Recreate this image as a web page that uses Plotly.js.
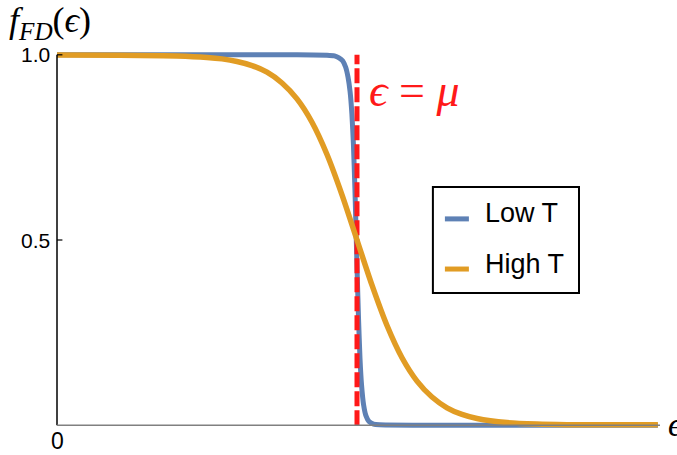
<!DOCTYPE html>
<html>
<head>
<meta charset="utf-8">
<script src="https://cdn.plot.ly/plotly-3.0.1.min.js"></script>
<style>html,body{margin:0;padding:0;background:#fff;}#chart{width:677px;height:455px;}</style>
</head>
<body>
<div id="chart"></div>
<script>
// Energy values (in units of the chemical potential) and occupation
const lowT_x = [0, 0.5, 0.8, 0.9, 0.925, 0.94, 0.952, 0.962, 0.97, 0.977, 0.983, 0.988, 0.993, 0.997, 1.001, 1.005, 1.01, 1.015, 1.022, 1.03, 1.04, 1.055, 1.075, 1.2, 2.003];
const lowT_y = [1, 1, 1, 0.999, 0.997, 0.992, 0.984, 0.967, 0.94, 0.9, 0.84, 0.76, 0.64, 0.52, 0.4, 0.29, 0.18, 0.11, 0.055, 0.025, 0.01, 0.003, 0.001, 0, 0];
const highT_x = [0, 0.2, 0.4, 0.5, 0.55, 0.6, 0.65, 0.7, 0.75, 0.8, 0.85, 0.9, 0.95, 1.0, 1.05, 1.1, 1.15, 1.2, 1.25, 1.3, 1.35, 1.4, 1.5, 1.6, 1.7, 1.8, 2.003];
const highT_y = [0.9995, 0.999, 0.997, 0.993, 0.989, 0.982, 0.971, 0.953, 0.924, 0.881, 0.818, 0.731, 0.622, 0.5, 0.378, 0.269, 0.182, 0.119, 0.076, 0.047, 0.029, 0.018, 0.007, 0.003, 0.0015, 0.001, 0.001];
const mu = 1.0;
const seriesNames = ["Low T", "High T"];
const yTickVals = [0.5, 1.0];
const yTickText = ["0.5", "1.0"];
const xTickVals = [0];
const xTickText = ["0"];
const xMax = 2.01;

const blue = "#5E81B5", orange = "#E19C24", red = "rgb(255,25,25)";
const serif = "Liberation Serif, Times New Roman, DejaVu Serif, serif";
const sans = "Liberation Sans, Arial, sans-serif";

const traces = [
  {x: lowT_x, y: lowT_y, mode: "lines", line: {color: blue, width: 5, shape: "spline", smoothing: 0.5}, name: seriesNames[0], showlegend: false, hoverinfo: "skip"},
  {x: [mu, mu], y: [0, 1], mode: "lines", line: {color: red, width: 5, dash: "15px,4px"}, showlegend: false, hoverinfo: "skip"},
  {x: highT_x, y: highT_y, mode: "lines", line: {color: orange, width: 5.5, shape: "spline", smoothing: 0.8}, name: seriesNames[1], showlegend: false, hoverinfo: "skip"}
];

const shapes = [
  // axes
  {type: "line", x0: 0, x1: 0, y0: 0, y1: 1, line: {color: "#000", width: 1.5}},
  {type: "line", x0: 0, x1: xMax, y0: 0, y1: 0, line: {color: "#808080", width: 1.5}},
  // legend box
  {type: "rect", x0: 1.253, x1: 1.74, y0: 0.357, y1: 0.643, line: {color: "#000", width: 2}, fillcolor: "rgba(255,255,255,1)", layer: "above"},
  {type: "line", x0: 1.293, x1: 1.373, y0: 0.557, y1: 0.557, line: {color: blue, width: 5}},
  {type: "line", x0: 1.293, x1: 1.373, y0: 0.4216, y1: 0.4216, line: {color: orange, width: 5}}
];
yTickVals.forEach(v => shapes.push({type: "line", x0: 0, x1: 0.018, y0: v, y1: v, line: {color: "#000", width: 1.2}}));

const annotations = [];
yTickVals.forEach((v, i) => annotations.push({x: 0, y: v, text: yTickText[i], showarrow: false, xanchor: "right", yanchor: "middle", xshift: -5, font: {family: sans, size: 21, color: "#000"}}));
xTickVals.forEach((v, i) => annotations.push({x: v, y: 0, text: xTickText[i], showarrow: false, xanchor: "center", yanchor: "top", yshift: -1, font: {family: sans, size: 23, color: "#000"}}));
annotations.push({xref: "paper", yref: "paper", x: -0.072, y: 1.043, text: "<i>f</i><sub><i>FD</i></sub>(<i>\u03F5</i>)", showarrow: false, xanchor: "left", yanchor: "middle", font: {family: serif, size: 36, color: "#000"}});
annotations.push({xref: "paper", yref: "paper", x: 1.005, y: 0.04, text: "<i>\u03F5</i>", showarrow: false, xanchor: "left", yanchor: "middle", font: {family: serif, size: 34, color: "#000"}});
annotations.push({x: 1.033, y: 0.905, text: "<i>\u03F5</i> = <i>\u03BC</i>", showarrow: false, xanchor: "left", yanchor: "middle", font: {family: serif, size: 46, color: red}});
annotations.push({x: 1.42, y: 0.573, text: seriesNames[0], showarrow: false, xanchor: "left", yanchor: "middle", font: {family: sans, size: 27, color: "#000"}});
annotations.push({x: 1.42, y: 0.435, text: seriesNames[1], showarrow: false, xanchor: "left", yanchor: "middle", font: {family: sans, size: 27, color: "#000"}});

const layout = {
  width: 677, height: 455,
  margin: {l: 51, r: 14, t: 40, b: 15},
  paper_bgcolor: "#fff", plot_bgcolor: "#fff",
  xaxis: {range: [-0.02, 2.02], showgrid: false, zeroline: false, showline: false, showticklabels: false, ticks: ""},
  yaxis: {range: [-0.04, 1.04], showgrid: false, zeroline: false, showline: false, showticklabels: false, ticks: ""},
  shapes: shapes,
  annotations: annotations,
  showlegend: false
};

Plotly.newPlot("chart", traces, layout, {displayModeBar: false, staticPlot: true});
</script>
</body>
</html>
